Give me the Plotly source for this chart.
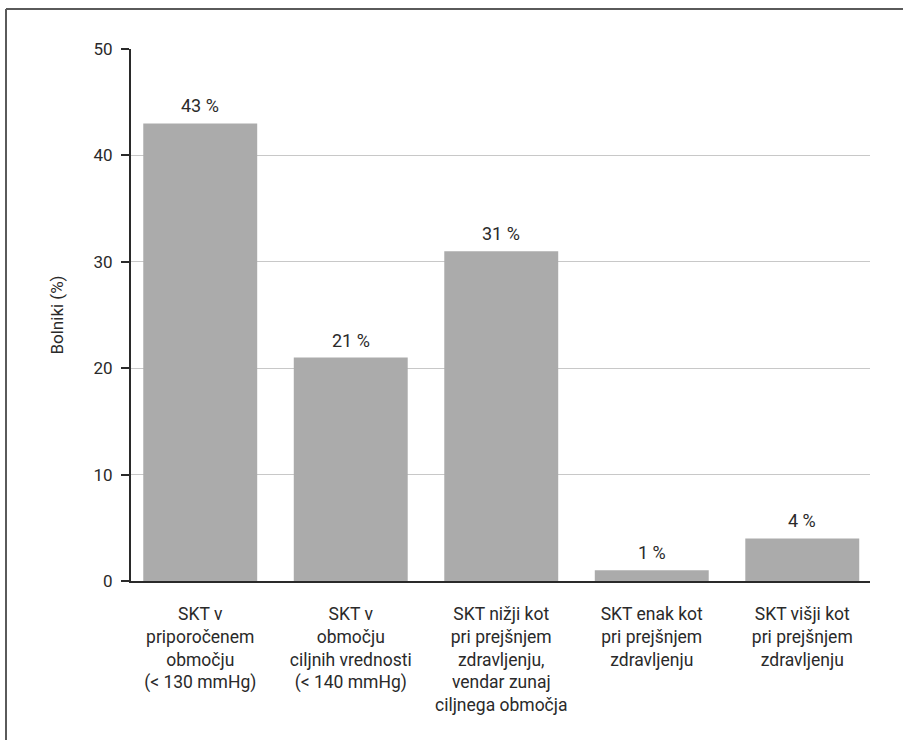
import plotly.graph_objects as go

categories = [
    "SKT v<br>priporočenem<br>območju<br>(< 130 mmHg)",
    "SKT v<br>območju<br>ciljnih vrednosti<br>(< 140 mmHg)",
    "SKT nižji kot<br>pri prejšnjem<br>zdravljenju,<br>vendar zunaj<br>ciljnega območja",
    "SKT enak kot<br>pri prejšnjem<br>zdravljenju",
    "SKT višji kot<br>pri prejšnjem<br>zdravljenju",
]
values = [43, 21, 31, 1, 4]
y_ticks = [0, 10, 20, 30, 40, 50]

FONT = "Roboto"
TEXT = "#2a2a2a"
W, H = 903, 740
ML, MR, MT, MB = 131, 33, 49, 159

fig = go.Figure()
fig.add_trace(go.Bar(
    x=list(range(len(categories))),
    y=values,
    marker=dict(color="#ababab", line=dict(width=0)),
    hoverinfo="skip",
))

# value labels above each bar
for i, v in enumerate(values):
    fig.add_annotation(
        x=i, y=v, text=f"{v} %", showarrow=False,
        yanchor="bottom", yshift=5,
        font=dict(family=FONT, size=18, color=TEXT),
    )

# frame around the figure (left and top edges)
pw = W - ML - MR
ph = H - MT - MB
x_left = (6 - ML) / pw
y_top = 1 + (MT - 9) / ph
fig.add_shape(type="line", xref="paper", yref="paper",
              x0=x_left, x1=(W + 10 - ML) / pw, y0=y_top, y1=y_top,
              line=dict(color="#5a5a5a", width=2))
fig.add_shape(type="line", xref="paper", yref="paper",
              x0=x_left, x1=x_left, y0=y_top, y1=-(MB + 10) / ph,
              line=dict(color="#5a5a5a", width=2))

fig.update_layout(
    width=W, height=H,
    margin=dict(l=ML, r=MR, t=MT, b=MB, pad=0),
    paper_bgcolor="white", plot_bgcolor="white",
    bargap=0.243,
    showlegend=False,
    font=dict(family=FONT, color=TEXT),
)
fig.update_xaxes(
    range=[-0.46, 4.45],
    tickmode="array",
    tickvals=list(range(len(categories))),
    ticktext=categories,
    tickfont=dict(family=FONT, size=17.5, color=TEXT),
    showline=True, linecolor=TEXT, linewidth=2,
    ticks="", showgrid=False, zeroline=False,
    ticklabelstandoff=16,
)
fig.update_yaxes(
    range=[0, 50],
    tickmode="array", tickvals=y_ticks,
    tickfont=dict(family=FONT, size=17, color=TEXT),
    showline=True, linecolor=TEXT, linewidth=2,
    ticks="outside", ticklen=8, tickwidth=1.5, tickcolor=TEXT,
    ticklabelstandoff=5,
    showgrid=True, gridcolor="#c8c8c8", gridwidth=1,
    zeroline=False,
    title=dict(text="Bolniki (%)", font=dict(family=FONT, size=17, color=TEXT), standoff=26),
)

fig.write_html("out.html")
